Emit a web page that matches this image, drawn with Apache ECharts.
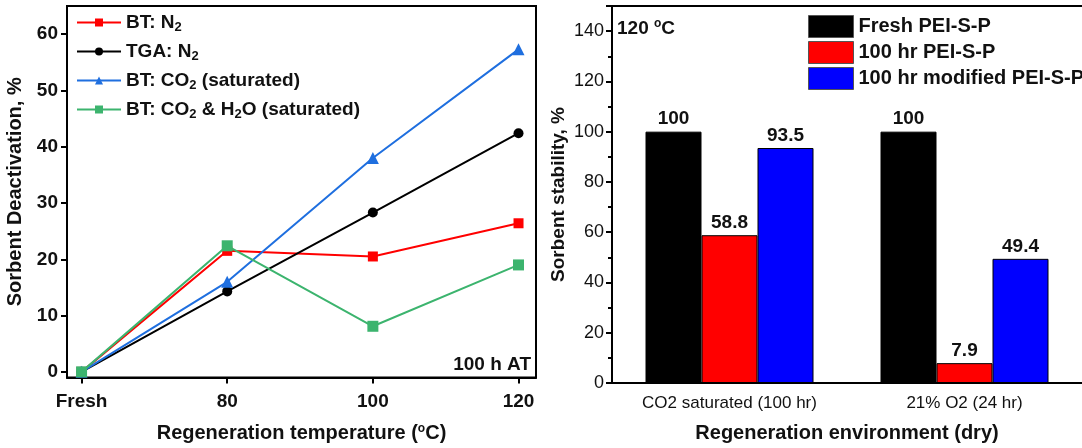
<!DOCTYPE html>
<html>
<head>
<meta charset="utf-8">
<script src="https://cdn.jsdelivr.net/npm/echarts@6/dist/echarts.min.js"></script>
<style>
  html, body { margin: 0; padding: 0; background: #fff; }
  #chart { width: 1082px; height: 448px; }
</style>
</head>
<body>
<div id="chart"></div>
<script>
  // left panel: deactivation vs regeneration temperature
  var tempCategories = ['Fresh', '80', '100', '120'];
  var btN2 = [0, 21.5, 20.5, 26.4];
  var tgaN2 = [0, 14.3, 28.3, 42.4];
  var btCO2 = [0, 16.0, 38.0, 57.3];
  var btCO2H2O = [0, 22.4, 8.1, 19.0];
  var leftTicks = [0, 10, 20, 30, 40, 50, 60];

  // right panel: stability by environment
  var envCategories = ['CO2 saturated (100 hr)', '21% O2 (24 hr)'];
  var freshPEI = [100, 100];
  var aged100 = [58.8, 7.9];
  var modified100 = [93.5, 49.4];

  var FONT = '"Liberation Sans", Arial, sans-serif';

  function toPairs(arr) {
    return arr.map(function (v, i) { return [i, v]; });
  }

  var legendNames = {
    'BT: N2': 'BT: N{sub|2}',
    'TGA: N2': 'TGA: N{sub|2}',
    'BT: CO2 (saturated)': 'BT: CO{sub|2} (saturated)',
    'BT: CO2 & H2O (saturated)': 'BT: CO{sub|2} & H{sub|2}O (saturated)'
  };

  function lineSeries(name, data, color, symbol, size) {
    return {
      name: name,
      type: 'line',
      xAxisIndex: 0,
      yAxisIndex: 0,
      data: toPairs(data),
      symbol: symbol,
      symbolSize: size,
      lineStyle: { color: color, width: 2 },
      itemStyle: { color: color },
      z: 3
    };
  }

  function barSeries(name, data, color) {
    return {
      name: name,
      type: 'bar',
      xAxisIndex: 1,
      yAxisIndex: 1,
      data: data,
      barWidth: 56,
      barGap: '0%',
      itemStyle: { color: color, borderColor: '#000', borderWidth: 1 },
      label: {
        show: true,
        position: 'top',
        distance: 3,
        color: '#111',
        fontFamily: FONT,
        fontWeight: 'bold',
        fontSize: 19
      }
    };
  }

  var supStyle = { fontFamily: FONT, fontSize: 12, fontWeight: 'bold', padding: [0, 0, 9, 0] };

  var myChart = echarts.init(document.getElementById('chart'));
  var option = {
    animation: false,
    textStyle: { fontFamily: FONT, color: '#111' },
    title: [
      {
        text: '100 h AT',
        right: 551,
        top: 355,
        padding: 0,
        textStyle: { fontFamily: FONT, fontWeight: 'bold', fontSize: 19, color: '#111' }
      },
      {
        text: '120 {sup|o}C',
        left: 617,
        top: 18,
        padding: 0,
        textStyle: {
          fontFamily: FONT, fontWeight: 'bold', fontSize: 19, color: '#111',
          rich: { sup: supStyle }
        }
      }
    ],
    legend: [
      {
        data: ['BT: N2', 'TGA: N2', 'BT: CO2 (saturated)', 'BT: CO2 & H2O (saturated)'],
        orient: 'vertical',
        left: 71,
        top: 8,
        itemWidth: 44,
        itemHeight: 10,
        itemGap: 8.5,
        formatter: function (name) { return legendNames[name]; },
        textStyle: {
          fontFamily: FONT, fontWeight: 'bold', fontSize: 19, color: '#111',
          rich: { sub: { fontFamily: FONT, fontSize: 13, fontWeight: 'bold', padding: [9, 0, 0, 0] } }
        }
      },
      {
        data: ['Fresh PEI-S-P', '100 hr PEI-S-P', '100 hr modified PEI-S-P'],
        orient: 'vertical',
        left: 803,
        top: 10,
        itemWidth: 45,
        itemHeight: 22,
        itemGap: 3,
        icon: 'rect',
        itemStyle: { borderColor: '#555', borderWidth: 1 },
        textStyle: { fontFamily: FONT, fontWeight: 'bold', fontSize: 20, color: '#111' }
      }
    ],
    grid: [
      { left: 67, right: 546, top: 6, bottom: 70, show: true, borderColor: '#000', borderWidth: 2 },
      { left: 612, right: -6, top: 6, bottom: 60 }
    ],
    xAxis: [
      {
        gridIndex: 0,
        type: 'value',
        min: -0.1,
        max: 3.12,
        name: 'Regeneration temperature ({sup|o}C)',
        nameLocation: 'middle',
        nameGap: 45,
        nameTextStyle: {
          fontFamily: FONT, fontWeight: 'bold', fontSize: 20, color: '#111',
          rich: { sup: supStyle }
        },
        axisLine: { onZero: false, lineStyle: { color: '#000', width: 2 } },
        axisTick: { show: true, length: 6, lineStyle: { color: '#000', width: 2 }, customValues: [0, 1, 2, 3] },
        axisLabel: {
          customValues: [0, 1, 2, 3],
          formatter: function (v) { return tempCategories[Math.round(v)]; },
          fontFamily: FONT, fontWeight: 'bold', fontSize: 19, color: '#111', margin: 15
        },
        splitLine: { show: false }
      },
      {
        gridIndex: 1,
        type: 'category',
        data: envCategories,
        name: 'Regeneration environment (dry)',
        nameLocation: 'middle',
        nameGap: 40,
        nameTextStyle: { fontFamily: FONT, fontWeight: 'bold', fontSize: 20, color: '#111' },
        axisLine: { lineStyle: { color: '#000', width: 2 } },
        axisTick: { alignWithLabel: true, length: 6, lineStyle: { color: '#000', width: 2 } },
        axisLabel: { fontFamily: FONT, fontSize: 17, color: '#111', margin: 12 },
        splitLine: { show: false }
      },
      {
        gridIndex: 1,
        type: 'category',
        position: 'top',
        data: envCategories,
        axisLine: { lineStyle: { color: '#000', width: 2 } },
        axisTick: { show: false },
        axisLabel: { show: false }
      },
      {
        // short ticks on the category boundaries
        gridIndex: 1,
        type: 'category',
        position: 'bottom',
        offset: 0,
        data: envCategories,
        axisLine: { show: false },
        axisTick: { alignWithLabel: false, length: 3, lineStyle: { color: '#000', width: 2 } },
        axisLabel: { show: false }
      }
    ],
    yAxis: [
      {
        gridIndex: 0,
        type: 'value',
        min: -1,
        max: 65,
        name: 'Sorbent Deactivation, %',
        nameLocation: 'middle',
        nameGap: 42,
        nameTextStyle: { fontFamily: FONT, fontWeight: 'bold', fontSize: 20, color: '#111' },
        axisLine: { show: true, onZero: false, lineStyle: { color: '#000', width: 2 } },
        axisTick: { show: true, length: 6, lineStyle: { color: '#000', width: 2 }, customValues: leftTicks },
        axisLabel: {
          customValues: leftTicks,
          fontFamily: FONT, fontWeight: 'bold', fontSize: 19, color: '#111', margin: 9
        },
        splitLine: { show: false }
      },
      {
        gridIndex: 1,
        type: 'value',
        min: 0,
        max: 150,
        interval: 20,
        name: 'Sorbent stability, %',
        nameLocation: 'middle',
        nameGap: 44,
        nameTextStyle: { fontFamily: FONT, fontWeight: 'bold', fontSize: 19, color: '#111' },
        axisLine: { show: true, onZero: false, lineStyle: { color: '#000', width: 2 } },
        axisTick: { show: true, length: 6, lineStyle: { color: '#000', width: 2 } },
        minorTick: { show: true, splitNumber: 2, length: 4, lineStyle: { color: '#000', width: 2 } },
        axisLabel: {
          fontFamily: FONT, fontSize: 18, color: '#111', margin: 8,
          formatter: function (v) { return v > 140 ? '' : v; }
        },
        splitLine: { show: false }
      }
    ],
    series: [
      lineSeries('BT: N2', btN2, '#ff0000', 'rect', 10),
      lineSeries('TGA: N2', tgaN2, '#000000', 'circle', 10),
      lineSeries('BT: CO2 (saturated)', btCO2, '#1f6fdf', 'triangle', 12),
      lineSeries('BT: CO2 & H2O (saturated)', btCO2H2O, '#3cb46e', 'rect', 11),
      barSeries('Fresh PEI-S-P', freshPEI, '#000000'),
      barSeries('100 hr PEI-S-P', aged100, '#ff0000'),
      barSeries('100 hr modified PEI-S-P', modified100, '#0000ff')
    ]
  };
  myChart.setOption(option);
</script>
</body>
</html>
